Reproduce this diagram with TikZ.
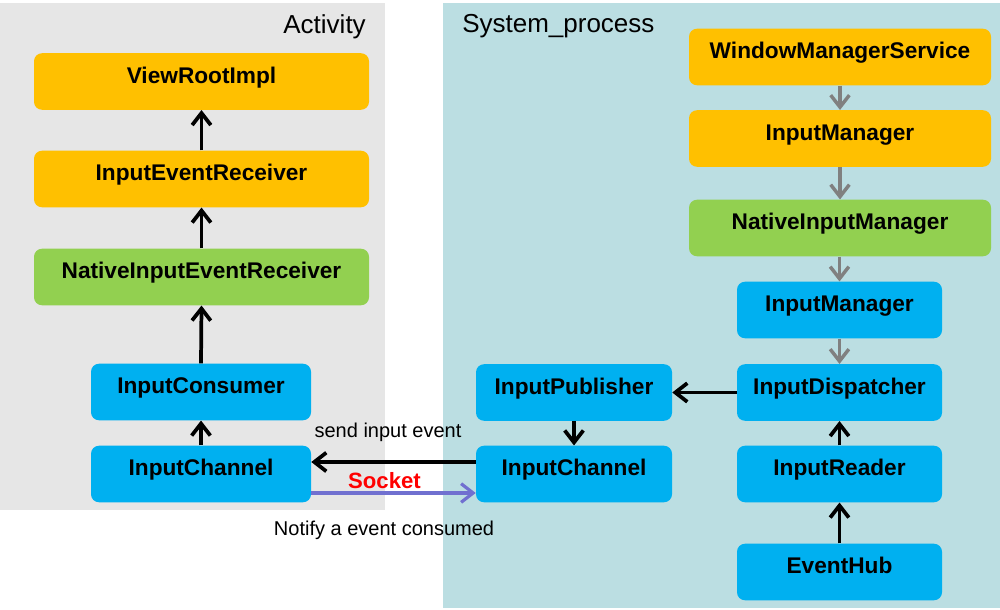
\documentclass[tikz,border=0pt]{standalone}
\usepackage{fontspec}
\setmainfont{Liberation Sans}
\usetikzlibrary{arrows.meta}
\definecolor{actbg}{RGB}{230,230,230}
\definecolor{sysbg}{RGB}{187,222,226}
\definecolor{orangebox}{RGB}{255,192,0}
\definecolor{greenbox}{RGB}{146,208,80}
\definecolor{bluebox}{RGB}{0,176,240}
\definecolor{grayarrow}{RGB}{128,128,128}
\definecolor{purplearrow}{RGB}{112,112,208}
\tikzset{
  box/.style={rounded corners=6pt, inner sep=0pt, text height=22.5pt, text depth=19.9pt,
    font=\fontsize{17pt}{18pt}\selectfont\bfseries, align=center},
  obox/.style={box, fill=orangebox},
  gbox/.style={box, fill=greenbox},
  bbox/.style={box, fill=bluebox},
  blk/.style={draw=black, line width=2.8pt, -{Straight Barb[length=9pt,width=14pt]}},
  gry/.style={draw=grayarrow, line width=2.6pt, -{Straight Barb[length=9pt,width=14pt]}},
  prp/.style={draw=purplearrow, line width=2.4pt, -{Straight Barb[length=9pt,width=14pt]}},
  lbl/.style={inner sep=0pt, font=\fontsize{15pt}{18pt}\selectfont},
  title/.style={inner sep=0pt, font=\fontsize{19.5pt}{22pt}\selectfont}
}
\begin{document}
\begin{tikzpicture}[x=0.75pt,y=-0.75pt]
\useasboundingbox (0,0) rectangle (1000,610);
\fill[actbg] (0,3) rectangle (385,510);
\fill[sysbg] (443,3) rectangle (1000,608);
\node[title, anchor=base east] (act) at (366,34) {Activity};
\node[title, anchor=base west] (sys) at (462,33) {System\_process};
% Activity side
\node[obox, minimum width=251.25pt] (vri) at (201.5,81.5) {ViewRootImpl};
\node[obox, minimum width=251.25pt] (ier) at (201.5,179) {InputEventReceiver};
\node[gbox, minimum width=251.25pt] (nier) at (201.5,277) {NativeInputEventReceiver};
\node[bbox, minimum width=165pt] (icons) at (201,392) {InputConsumer};
\node[bbox, minimum width=165pt] (ichl) at (201,474) {InputChannel};
% System side
\node[obox, minimum width=226.5pt] (wms) at (840,57) {WindowManagerService};
\node[obox, minimum width=226.5pt] (imo) at (840,138.5) {InputManager};
\node[gbox, minimum width=226.5pt] (nim) at (840,228) {NativeInputManager};
\node[bbox, minimum width=153.75pt] (imb) at (839.5,310) {InputManager};
\node[bbox, minimum width=153.75pt] (idisp) at (839.5,392.5) {InputDispatcher};
\node[bbox, minimum width=153.75pt] (iread) at (839.5,474) {InputReader};
\node[bbox, minimum width=153.75pt] (ehub) at (839.5,572) {EventHub};
\node[bbox, minimum width=147pt] (ipub) at (574,392.5) {InputPublisher};
\node[bbox, minimum width=147pt] (ichr) at (574,474) {InputChannel};
% Activity arrows
\draw[blk] (ier.north) -- (vri.south);
\draw[blk] (nier.north) -- (ier.south);
\draw[blk] (icons.north) -- (nier.south);
\draw[blk] (ichl.north) -- (icons.south);
% System arrows
\draw[gry] (wms.south) -- (imo.north);
\draw[gry] (imo.south) -- (nim.north);
\draw[gry] (nim.south -| imb.north) -- (imb.north);
\draw[gry] (imb.south) -- (idisp.north);
\draw[blk] (ehub.north) -- (iread.south);
\draw[blk] (iread.north) -- (idisp.south);
\draw[blk] (idisp.west) -- (ipub.east);
\draw[blk] (ipub.south) -- (ichr.north);
% socket arrows
\draw[blk] ([yshift=9pt]ichr.west) -- ([yshift=9pt]ichl.east);
\draw[prp] ([yshift=-14.25pt]ichl.east) -- ([yshift=-14.25pt]ichr.west);
\node[lbl, anchor=base] (send) at (388,437) {send input event};
\node[lbl, anchor=base, text=red, font=\fontsize{16.6pt}{18pt}\selectfont\bfseries] (sock) at (384.5,488) {Socket};
\node[lbl, anchor=base] (notify) at (384,535) {Notify a event consumed};
\end{tikzpicture}
\end{document}
